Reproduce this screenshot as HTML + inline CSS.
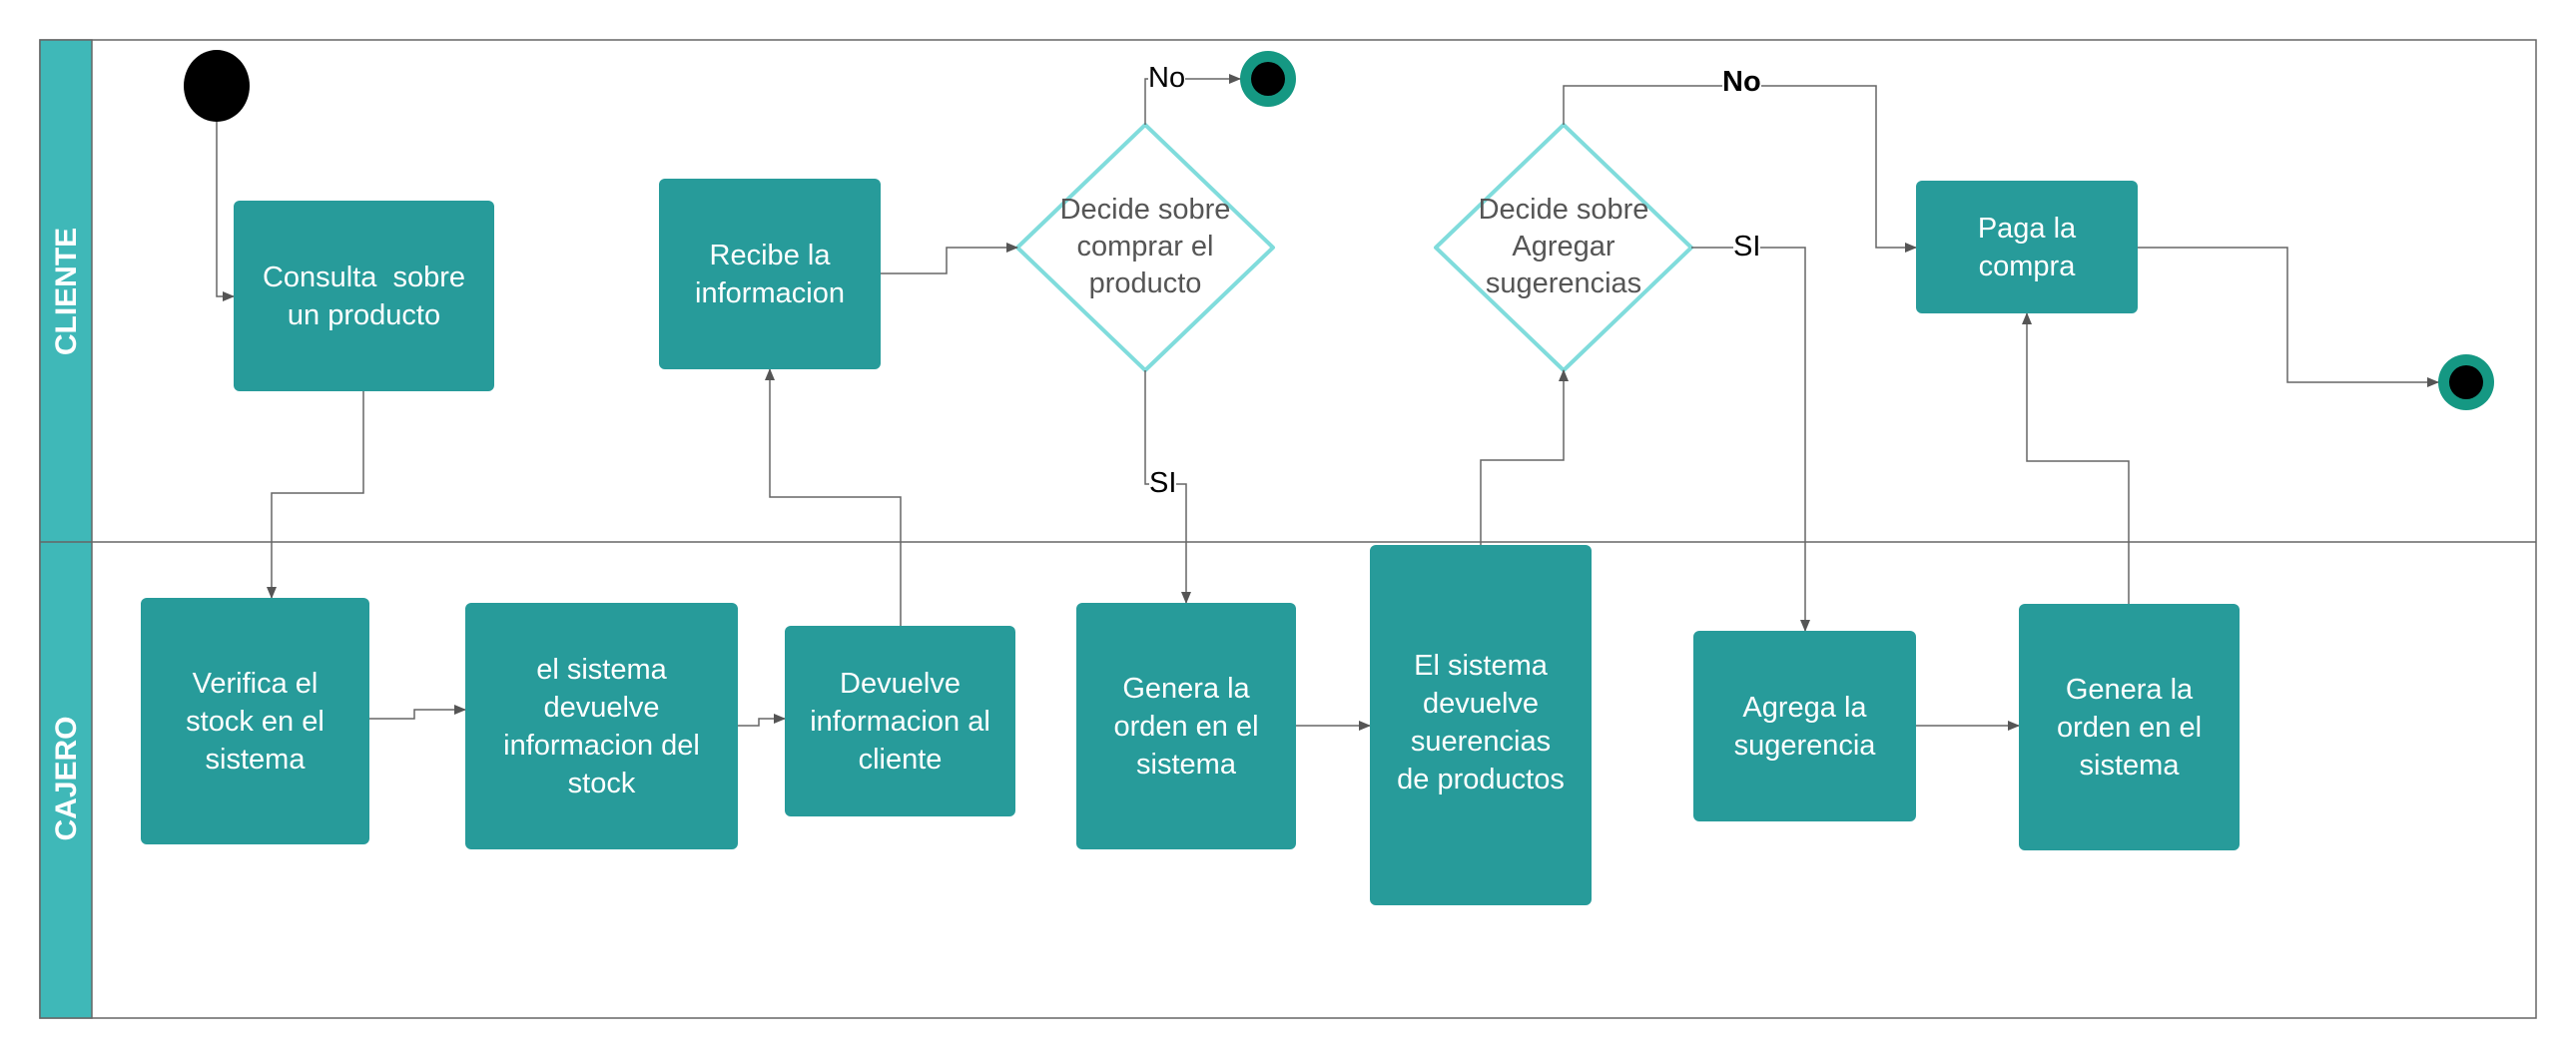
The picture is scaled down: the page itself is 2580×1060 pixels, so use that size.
<!DOCTYPE html>
<html><head><meta charset="utf-8"><style>
html,body{margin:0;padding:0;background:#fff;width:2580px;height:1060px;overflow:hidden}
.b{position:absolute;background:#279b9a;border-radius:6px;color:#fff;display:flex;align-items:center;justify-content:center;text-align:center;font:29px/38px "Liberation Sans",sans-serif}
.d{position:absolute;color:#555;text-align:center;font:29px/37px "Liberation Sans",sans-serif}
.l{position:absolute;font:29px "Liberation Sans",sans-serif;color:#000;background:#fff;line-height:32px}
</style></head><body>
<svg width="2580" height="1060" style="position:absolute;left:0;top:0">
<defs><marker id="a" markerWidth="12" markerHeight="10" refX="11" refY="5" orient="auto" markerUnits="userSpaceOnUse"><path d="M0,0 L12,5 L0,10z" fill="#555"/></marker></defs>
<rect x="40" y="40" width="2500" height="980" fill="none" stroke="#666" stroke-width="1.5"/>
<rect x="40" y="40" width="52" height="980" fill="#3fb8b8" stroke="#666" stroke-width="1.5"/>
<line x1="40" y1="543" x2="2540" y2="543" stroke="#666" stroke-width="1.5"/>
<text transform="translate(76,292) rotate(-90)" text-anchor="middle" font-family="Liberation Sans" font-weight="bold" font-size="30" fill="#fff">CLIENTE</text>
<text transform="translate(76,780) rotate(-90)" text-anchor="middle" font-family="Liberation Sans" font-weight="bold" font-size="30" fill="#fff">CAJERO</text>
<ellipse cx="217" cy="86" rx="33" ry="36" fill="#000"/>
<circle cx="1270" cy="79" r="28" fill="#159883"/><circle cx="1270" cy="79" r="17" fill="#000"/>
<circle cx="2470" cy="383" r="28" fill="#159883"/><circle cx="2470" cy="383" r="17" fill="#000"/>
<path d="M1147,125 L1275,248 L1147,371 L1019,248Z" fill="#fff" stroke="#80dcdc" stroke-width="4" stroke-linejoin="round"/>
<path d="M1566,125 L1694,248 L1566,371 L1438,248Z" fill="#fff" stroke="#80dcdc" stroke-width="4" stroke-linejoin="round"/>
<g fill="none" stroke="#666" stroke-width="1.5" marker-end="url(#a)">
<path d="M217,122 V297 H234"/>
<path d="M364,392 V494 H272 V599"/>
<path d="M370,720 H415 V711 H466"/>
<path d="M739,727 H760 V720 H786"/>
<path d="M902,627 V498 H771 V370"/>
<path d="M882,274 H948 V248 H1019"/>
<path d="M1147,125 V79 H1242"/>
<path d="M1147,371 V485 H1188 V604"/>
<path d="M1298,727 H1372"/>
<path d="M1483,546 V461 H1566 V371"/>
<path d="M1566,125 V86 H1879 V248 H1919"/>
<path d="M1694,248 H1808 V632"/>
<path d="M1919,727 H2022"/>
<path d="M2132,605 V462 H2030 V314"/>
<path d="M2141,248 H2291 V383 H2442"/>
</g>
</svg>
<div class="l" style="left:1150px;top:62px">No</div>
<div class="l" style="left:1151px;top:468px">SI</div>
<div class="l" style="left:1725px;top:66px;font-weight:bold">No</div>
<div class="l" style="left:1736px;top:231px">SI</div>
<div class="b" style="left:234px;top:201px;width:261px;height:191px">Consulta&nbsp; sobre<br>un producto</div>
<div class="b" style="left:660px;top:179px;width:222px;height:191px">Recibe la<br>informacion</div>
<div class="b" style="left:1919px;top:181px;width:222px;height:133px">Paga la<br>compra</div>
<div class="b" style="left:141px;top:599px;width:229px;height:247px">Verifica el<br>stock en el<br>sistema</div>
<div class="b" style="left:466px;top:604px;width:273px;height:247px">el sistema<br>devuelve<br>informacion del<br>stock</div>
<div class="b" style="left:786px;top:627px;width:231px;height:191px">Devuelve<br>informacion al<br>cliente</div>
<div class="b" style="left:1078px;top:604px;width:220px;height:247px">Genera la<br>orden en el<br>sistema</div>
<div class="b" style="left:1372px;top:546px;width:222px;height:361px;align-items:flex-start;padding-top:102px;box-sizing:border-box">El sistema<br>devuelve<br>suerencias<br>de productos</div>
<div class="b" style="left:1696px;top:632px;width:223px;height:191px">Agrega la<br>sugerencia</div>
<div class="b" style="left:2022px;top:605px;width:221px;height:247px">Genera la<br>orden en el<br>sistema</div>
<div class="d" style="left:1027px;top:192px;width:240px">Decide sobre<br>comprar el<br>producto</div>
<div class="d" style="left:1446px;top:192px;width:240px">Decide sobre<br>Agregar<br>sugerencias</div>
</body></html>
